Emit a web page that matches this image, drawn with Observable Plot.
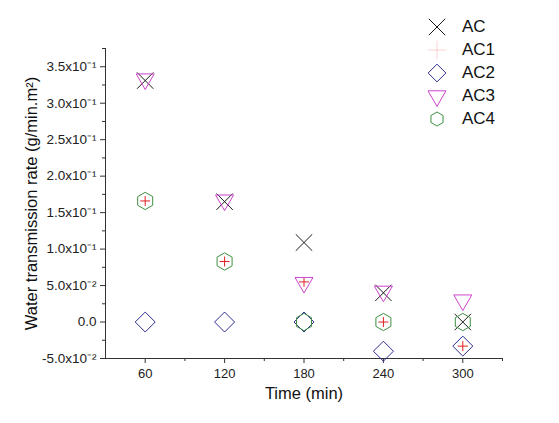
<!DOCTYPE html>
<html><head><meta charset="utf-8">
<script src="https://cdn.jsdelivr.net/npm/d3@7"></script>
<script src="https://cdn.jsdelivr.net/npm/@observablehq/plot@0.6"></script>
<style>
body{margin:0;background:#fff;}
#wrap{position:relative;width:559px;height:423px;font-family:"Liberation Sans",Arial,sans-serif;}
#wrap g[aria-label="y-axis tick label"]{font-size:13.5px;}
#wrap g[aria-label="x-axis tick label"]{font-size:13px;}
#legend{position:absolute;left:426px;top:15px;}
.row{display:flex;align-items:center;height:23px;}
.row span{font-size:17px;color:#111;margin-left:14px;}
</style></head><body><div id="wrap"><div id="legend"></div></div>
<script>
const times = [60, 120, 180, 240, 300];
const seriesNames = ["AC", "AC1", "AC2", "AC3", "AC4"];
const acValues  = [0.331, 0.165, 0.109, 0.040, 0.000];
const ac1Values = [0.166, 0.083, 0.055, 0.000, -0.033];
const ac2Values = [0.000, 0.000, 0.000, -0.040, -0.033];
const ac3Values = [0.333, 0.167, 0.054, 0.042, 0.030];
const ac4Values = [0.166, 0.083, 0.000, 0.000, 0.000];
const xTicks = [60, 120, 180, 240, 300];
const xMinorTicks = [90, 150, 210, 270, 330];
const yTicks = [-0.05, 0, 0.05, 0.10, 0.15, 0.20, 0.25, 0.30, 0.35];
const yTickLabels = ["-5.0x10⁻²", "0.0", "5.0x10⁻²", "1.0x10⁻¹", "1.5x10⁻¹", "2.0x10⁻¹", "2.5x10⁻¹", "3.0x10⁻¹", "3.5x10⁻¹"];
const yMinorTicks = [-0.025, 0.025, 0.075, 0.125, 0.175, 0.225, 0.275, 0.325, 0.375];
const seriesColors = ["#1a1a1a", "#e02020", "#2e2e96", "#cc44cc", "#3f8f3f"];
const seriesSymbols = ["times", "plus", "diamond2", "triangle2", "hexagon"];
const seriesR = [7.5, 3.3, 9, 8.6, 7.5];
const seriesRotate = [0, 0, 0, 180, 0];

const allValues = [acValues, ac1Values, ac2Values, ac3Values, ac4Values];
const data = [];
seriesNames.forEach((s, i) => times.forEach((t, j) => data.push({series: s, time: t, value: allValues[i][j]})));

const font = '"Liberation Sans", Arial, sans-serif';
const marks = [
  Plot.ruleX([30], {stroke: "#333"}),
  Plot.ruleY([-0.05], {stroke: "#333"}),
  Plot.axisX({ticks: xTicks, tickSize: 5, tickPadding: 5, label: null, stroke: "#333", fontSize: 13}),
  Plot.axisX({ticks: xMinorTicks, tickSize: 3, tickFormat: () => "", label: null, stroke: "#333"}),
  Plot.axisY({ticks: yTicks, tickSize: 5, tickPadding: 4, label: null, stroke: "#333", fontSize: 13.5,
    tickFormat: d => yTickLabels[yTicks.findIndex(v => Math.abs(v - d) < 1e-9)]}),
  Plot.axisY({ticks: yMinorTicks, tickSize: 3, tickFormat: () => "", label: null, stroke: "#333"}),
  Plot.text(["Time (min)"], {frameAnchor: "bottom", dy: 40, fontSize: 16.5, fill: "#111", textAnchor: "middle"}),
  Plot.text(["Water transmission rate (g/min.m²)"], {frameAnchor: "left", dx: -74, rotate: -90, fontSize: 16.5, fill: "#111", textAnchor: "middle"})
];
seriesNames.forEach((s, i) => {
  marks.push(Plot.dot(data.filter(d => d.series === s), {
    x: "time", y: "value", symbol: () => seriesSymbols[i], r: seriesR[i],
    stroke: seriesColors[i], fill: "none", strokeWidth: 1, rotate: seriesRotate[i]
  }));
});

const chart = Plot.plot({
  width: 559, height: 423,
  marginLeft: 105, marginRight: 57, marginTop: 48, marginBottom: 65,
  style: {fontFamily: font, fontSize: "13px", color: "#222", background: "#fff", overflow: "visible"},
  x: {domain: [30, 330]},
  y: {domain: [-0.05, 0.375]},
  symbol: {type: "identity"},
  marks
});
document.getElementById("wrap").prepend(chart);

// legend
const legend = d3.select("#legend");
const symMap = {times: d3.symbolTimes, plus: d3.symbolPlus, diamond2: d3.symbolDiamond2, triangle2: d3.symbolTriangle2};
const legendR = [7.5, 6, 8, 8.6, 7];
seriesNames.forEach((s, i) => {
  const row = legend.append("div").attr("class", "row");
  const svg = row.append("svg").attr("width", 22).attr("height", 22);
  const size = Math.PI * legendR[i] * legendR[i];
  let path;
  if (seriesSymbols[i] === "hexagon") {
    const r = legendR[i];
    const pts = d3.range(6).map(k => { const a = Math.PI / 3 * k; return [r * Math.sin(a), -r * Math.cos(a)]; });
    path = "M" + pts.map(p => p.join(",")).join("L") + "Z";
  } else {
    path = d3.symbol(symMap[seriesSymbols[i]], size)();
  }
  svg.append("path").attr("d", path)
    .attr("transform", `translate(11,11) rotate(${seriesRotate[i]})`)
    .attr("fill", "none").attr("stroke", seriesColors[i])
    .attr("stroke-opacity", s === "AC1" ? 0.2 : 1);
  row.append("span").text(s);
});
</script>
</body></html>
